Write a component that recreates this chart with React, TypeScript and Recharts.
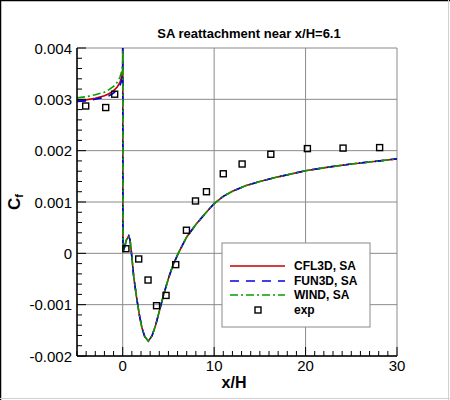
import React from 'react';
import { ComposedChart, Line, Scatter, XAxis, YAxis, CartesianGrid } from 'recharts';

// ---- data ----
const xCFD = [-5, -4, -3, -2, -1.5, -1, -0.6, -0.3, -0.1, 0, 0, 0.02, 0.2, 0.4, 0.66, 0.8, 0.95, 1.2, 1.5, 1.8, 2.1, 2.4, 2.8, 3.2, 3.6, 4.0, 4.5, 5.0, 5.5, 6.1, 7, 8, 9, 10, 11, 12, 13.5, 15, 17, 20, 22.5, 25, 27.5, 30];

const downstream = [0.00002, 0.00012, 0.00026, 0.00034, 0.00026, 0.00002, -0.00045, -0.00084, -0.00118, -0.00145, -0.00162, -0.00171, -0.00161, -0.0014, -0.00113, -0.00079, -0.00049, -0.00023, 0.00001, 0.00032, 0.00056, 0.00077, 0.00097, 0.00111, 0.00121, 0.00132, 0.0014, 0.00149, 0.00161, 0.00168, 0.00174, 0.00179, 0.00184];

const cfl3dUp = [0.00298, 0.00299, 0.00302, 0.00307, 0.00311, 0.00317, 0.00324, 0.00333, 0.00345, 0.0036, 0.006];
const fun3dUp = [0.00296, 0.00297, 0.003, 0.00304, 0.00307, 0.00312, 0.00319, 0.00327, 0.00337, 0.0035, 0.006];
const windUp = [0.00303, 0.00305, 0.00309, 0.00314, 0.00319, 0.00325, 0.00333, 0.00343, 0.00356, 0.0037, 0.006];

const cfl3dCf = [...cfl3dUp, ...downstream];
const fun3dCf = [...fun3dUp, ...downstream];
const windCf = [...windUp, ...downstream];

const expX = [-4.05, -1.86, -0.88, 0.35, 1.75, 2.77, 3.7, 4.74, 5.8, 6.97, 7.96, 9.16, 11.0, 13.06, 16.2, 20.2, 24.1, 28.1];
const expCf = [0.00287, 0.00284, 0.0031, 0.00009, -0.00011, -0.00052, -0.00102, -0.00082, -0.00022, 0.00045, 0.00102, 0.0012, 0.00155, 0.00174, 0.00193, 0.00204, 0.00205, 0.00206];

const xDomain = [-5, 30];
const yDomain = [-0.002, 0.004];
const xMajorTicks = [0, 10, 20, 30];
const yMajorTicks = [-0.002, -0.001, 0, 0.001, 0.002, 0.003, 0.004];
const xMinorStep = 1;
const yMinorStep = 0.0002;

const seriesNames = ['CFL3D, SA', 'FUN3D, SA', 'WIND, SA', 'exp'];
const title = 'SA reattachment near x/H=6.1';

// ---- derived ----
const cfl3dData = xCFD.map((x, i) => ({ x, cf: cfl3dCf[i] }));
const fun3dData = xCFD.map((x, i) => ({ x, cf: fun3dCf[i] }));
const windData = xCFD.map((x, i) => ({ x, cf: windCf[i] }));
const expData = expX.map((x, i) => ({ x, cf: expCf[i] }));

const xTicks: number[] = [];
for (let v = xDomain[0]; v <= xDomain[1] + 1e-9; v += xMinorStep) xTicks.push(Math.round(v * 100) / 100);
const yTicks: number[] = [];
for (let k = 0; k <= Math.round((yDomain[1] - yDomain[0]) / yMinorStep); k++) yTicks.push(Math.round((yDomain[0] + k * yMinorStep) * 1e5) / 1e5);

const FONT = '"Liberation Sans", Arial, Helvetica, sans-serif';
const TM = 3;
const PLOT_LEFT = 77;

const RED = '#c00000';
const BLUE = '#0000e6';
const GREEN = '#00a000';

const isXMajor = (v: number) => xMajorTicks.some((m) => Math.abs(m - v) < 1e-9);
const isYMajor = (v: number) => yMajorTicks.some((m) => Math.abs(m - v) < 1e-9);

const XTick = (props: any) => {
  const { x, y, payload } = props;
  const v = payload.value;
  const major = isXMajor(v);
  const axisY = y - TM;
  return (
    <g>
      <line x1={x} x2={x} y1={axisY} y2={axisY - (major ? 9 : 5)} stroke="#000" strokeWidth={1} />
      {major && (
        <text x={x} y={axisY + 15} textAnchor="middle" fontSize={15} fontFamily={FONT} fill="#000">
          {v}
        </text>
      )}
    </g>
  );
};

const YTick = (props: any) => {
  const { y, payload } = props;
  const v = payload.value;
  const major = isYMajor(v);
  const label = Math.abs(v) < 1e-12 ? '0' : v.toFixed(3);
  return (
    <g>
      <line x1={PLOT_LEFT} x2={PLOT_LEFT + (major ? 9 : 5)} y1={y} y2={y} stroke="#000" strokeWidth={1} />
      {major && (
        <text x={PLOT_LEFT - 5} y={y + 5.5} textAnchor="end" fontSize={15} fontFamily={FONT} fill="#000">
          {label}
        </text>
      )}
    </g>
  );
};

const Square = (props: any) => {
  const { cx, cy } = props;
  if (cx == null || cy == null) return null;
  return <rect x={cx - 3} y={cy - 3} width={6} height={6} fill="none" stroke="#000" strokeWidth={1.4} />;
};

export default function App() {
  return (
    <div style={{ position: 'absolute', left: 0, top: 0, width: 450, height: 400, background: '#fff' }}>
      <ComposedChart width={450} height={400} margin={{ top: 48, right: 53, bottom: 0, left: 0 }}>
        <CartesianGrid
          horizontalValues={[...yMajorTicks]}
          verticalValues={[...xMajorTicks]}
          stroke="#8a8a8a"
          strokeWidth={1}
        />
        <XAxis
          type="number"
          dataKey="x"
          domain={xDomain}
          allowDataOverflow
          ticks={xTicks}
          interval={0}
          height={44}
          tickSize={0}
          tickMargin={TM}
          tickLine={false}
          tick={XTick}
          axisLine={{ stroke: '#000', strokeWidth: 1.6 }}
        />
        <YAxis
          type="number"
          domain={yDomain}
          allowDataOverflow
          ticks={yTicks}
          interval={0}
          width={77}
          tickSize={0}
          tickMargin={TM}
          tickLine={false}
          tick={YTick}
          axisLine={{ stroke: '#000', strokeWidth: 1.6 }}
        />
        <Line data={cfl3dData} dataKey="cf" type="linear" stroke={RED} strokeWidth={1.6} dot={false} activeDot={false} isAnimationActive={false} />
        <Line data={fun3dData} dataKey="cf" type="linear" stroke={BLUE} strokeWidth={1.6} strokeDasharray="9 7" dot={false} activeDot={false} isAnimationActive={false} />
        <Line data={windData} dataKey="cf" type="linear" stroke={GREEN} strokeWidth={1.6} strokeDasharray="8 3 2 3" dot={false} activeDot={false} isAnimationActive={false} />
        <Scatter data={expData} dataKey="cf" shape={Square} isAnimationActive={false} />
      </ComposedChart>
      <svg
        width={450}
        height={400}
        style={{ position: 'absolute', left: 0, top: 0, pointerEvents: 'none' }}
      >
        <line x1={0.5} y1={0} x2={0.5} y2={400} stroke="#000" strokeWidth={1.5} />
        <line x1={0} y1={0.5} x2={450} y2={0.5} stroke="#000" strokeWidth={1.5} />
        <line x1={448.5} y1={0} x2={448.5} y2={400} stroke="#d0d0d0" strokeWidth={1} />
        <line x1={0} y1={398.5} x2={450} y2={398.5} stroke="#d0d0d0" strokeWidth={1} />
        <text x={249} y={38} textAnchor="middle" fontSize={13} fontWeight="bold" fontFamily={FONT} fill="#000">
          {title}
        </text>
        <text x={234} y={388} textAnchor="middle" fontSize={16} fontWeight="bold" fontFamily={FONT} fill="#000">
          x/H
        </text>
        <text transform="translate(20,202) rotate(-90)" textAnchor="middle" fontSize={17} fontWeight="bold" fontFamily={FONT} fill="#000">
          C<tspan fontSize={11} dy={3}>f</tspan>
        </text>
        <rect x={222} y={243} width={148} height={84} fill="#fff" stroke="#8a8a8a" strokeWidth={1} />
        <line x1={230} x2={285} y1={266} y2={266} stroke={RED} strokeWidth={1.6} />
        <line x1={230} x2={285} y1={281} y2={281} stroke={BLUE} strokeWidth={1.6} strokeDasharray="9 7" />
        <line x1={230} x2={285} y1={295} y2={295} stroke={GREEN} strokeWidth={1.6} strokeDasharray="8 3 2 3" />
        <rect x={255} y={307} width={6} height={6} fill="none" stroke="#000" strokeWidth={1.4} />
        {seriesNames.map((n, i) => (
          <text key={n} x={294} y={[270, 285, 299, 314][i]} fontSize={12} fontWeight="bold" fontFamily={FONT} fill="#000">
            {n}
          </text>
        ))}
      </svg>
    </div>
  );
}
